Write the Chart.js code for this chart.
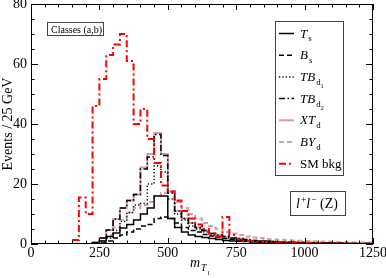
<!DOCTYPE html>
<html><head><meta charset="utf-8">
<script src="https://cdn.jsdelivr.net/npm/chart.js@4.4.1/dist/chart.umd.min.js"></script>
<style>html,body{margin:0;padding:0;background:#fff;}#wrap{width:386px;height:278px;position:relative}</style>
</head><body><div id="wrap"><canvas id="c" width="386" height="278"></canvas></div>
<script>
// ---- data (bins of 25 GeV, 0..1250) ----
const binEdges = [0,25,50,75,100,125,150,175,200,225,250,275,300,325,350,375,400,425,450,475,500,525,550,575,600,625,650,675,700,725,750,775,800,825,850,875,900,925,950,975,1000,1025,1050,1075,1100,1125,1150,1175,1200,1225,1250];
const xTickLabels = [0,250,500,750,1000,1250];
const yTickLabels = [0,20,40,60,80];

const T_s   = [0,0,0,0,0,0,0,0,0,0, 0.3,1,2.5,3.7,5.3,6.5,8,10,12,16, 16,8.5,5.5,4,3,2.5,2.2,1.8,1.5,1.2, 1,0.9,0.8,0.7,0.6,0.5,0.5,0.4,0.4,0.3, 0.3,0.3,0.2,0.2,0.2,0.2,0.1,0.1,0.1,0.1];
const B_s   = [0,0,0,0,0,0,0,0,0,0, 0,0.3,1,2,3,4,5,6,6.5,8.5, 9,8.5,7,5.5,4.5,4,3.2,2.7,2.2,1.8, 1.5,1.3,1.1,1,0.9,0.8,0.7,0.6,0.5,0.5, 0.4,0.4,0.3,0.3,0.3,0.2,0.2,0.2,0.2,0.1];
const TB_d1 = [0,0,0,0,0,0,0,0,0,0, 0,0.5,2,4.5,7.5,10.5,13,13.5,20,26, 24,15,10,8,6,5,4,3,2.5,2, 1.7,1.5,1.3,1.1,1,0.9,0.8,0.7,0.6,0.5, 0.5,0.4,0.4,0.3,0.3,0.3,0.2,0.2,0.2,0.2];
const TB_d2 = [0,0,0,0,0,0,0,0,0,0, 0.5,2,4.7,8.3,12,14.5,16.5,25,29,36.5, 29.5,17,11,8.5,7,5.5,4.5,3.5,3,2.5, 2,1.8,1.5,1.2,1,0.9,0.8,0.7,0.6,0.6, 0.5,0.5,0.4,0.4,0.3,0.3,0.3,0.2,0.2,0.2];
const XT_d  = [0,0,0,0,0,0,0,0,0,0, 0.5,2,4.7,8.3,12,14.5,16.5,25.5,30,37, 30,17.5,11,8.5,7,5.5,4.5,3.5,3,2.5, 2,1.8,1.5,1.2,1,0.9,0.8,0.7,0.6,0.6, 0.5,0.5,0.4,0.4,0.3,0.3,0.3,0.2,0.2,0.2];
const BY_d  = [0,0,0,0,0,0,0,0,0,0, 0,1,3,5.5,8,10.5,12,13,14,16, 17,17.5,14,12,10,8.5,7,6,5,4, 3.5,3,2.5,2.2,2,1.7,1.5,1.4,1.3,1.2, 1.1,1,0.9,0.8,0.8,0.7,0.6,0.6,0.5,0.5];
const SM_bkg= [0,0,0,0,0,0,0,1.3,15.5,10, 46,55,63,66.5,70,61,40,45,35,27, 19.5,17.5,14.5,11,8.5,6.5,5,3.5,2.5,9, 3,1.5,1,1,0.8,0.6,0.5,0.5,0.4,0.4, 0.3,0.3,0.3,0.2,0.2,0.2,0.2,0.1,0.1,0.1];

const SERIF = '"Liberation Serif","DejaVu Serif",serif';
const PINK = '#cfa3a6';

function hist(vals){
  const pts = vals.map((v,i)=>({x:binEdges[i], y:v}));
  pts.push({x:binEdges[vals.length], y:vals[vals.length-1]});
  return pts;
}

const styles = {
  T_s:   {color:'#000', dash:[], width:1.5},
  B_s:   {color:'#000', dash:[5,3], width:1.5},
  TB_d1: {color:'#000', dash:[1.2,2.2], width:1.5},
  TB_d2: {color:'#000', dash:[6,2.5,1.5,2.5], width:1.5},
  XT_d:  {color:PINK, dash:[], width:2},
  BY_d:  {color:PINK, dash:[5,3], width:2},
  SM:    {color:'#ff0000', dash:[7,3,2,3], width:2}
};

function ds(label, vals, st, order){
  return {label, data:hist(vals), stepped:'after', borderColor:st.color, borderWidth:st.width,
    borderDash:st.dash, pointRadius:0, fill:false, order, tension:0};
}

const legendRows = [
  {key:'T_s',   parts:[['T','i'],['s','sub']]},
  {key:'B_s',   parts:[['B','i'],['s','sub']]},
  {key:'TB_d1', parts:[['TB','i'],['d','sub'],['1','subsub']]},
  {key:'TB_d2', parts:[['TB','i'],['d','sub'],['2','subsub']]},
  {key:'XT_d',  parts:[['XT','i'],['d','sub']]},
  {key:'BY_d',  parts:[['BY','i'],['d','sub']]},
  {key:'SM',    parts:[['SM bkg','r']]}
];

function drawRich(ctx, x, y, parts, base){
  let cx = x;
  for (const [t, s] of parts){
    let size = base, dy = 0, it = false;
    if (s==='i') it = true;
    if (s==='sub'){ size = base*0.68; dy = base*0.3; }
    if (s==='subi'){ size = base*0.68; dy = base*0.3; it = true; }
    if (s==='subsub'){ size = base*0.5; dy = base*0.55; }
    if (s==='subsubi'){ size = base*0.5; dy = base*0.55; it = true; }
    if (s==='sup'){ size = base*0.68; dy = -base*0.38; }
    ctx.font = (it?'italic ':'') + size + 'px ' + SERIF;
    ctx.fillText(t, cx, y+dy);
    cx += ctx.measureText(t).width + (it?1:0);
  }
  return cx;
}

const decor = {
  id:'decor',
  afterDraw(chart){
    const ctx = chart.ctx, a = chart.chartArea;
    const xs = chart.scales.x, ys = chart.scales.y;
    ctx.save();
    ctx.strokeStyle = '#000'; ctx.lineWidth = 1; ctx.setLineDash([]);
    ctx.strokeRect(Math.round(a.left)+0.5, Math.round(a.top)+0.5, Math.round(a.right-a.left)-1, Math.round(a.bottom-a.top)-1);
    ctx.beginPath();
    for (let v=0; v<=1250; v+=50){
      const px = Math.round(xs.getPixelForValue(v))+0.5;
      const len = (v%250===0)?6:3.5;
      ctx.moveTo(px, a.bottom); ctx.lineTo(px, a.bottom-len);
      ctx.moveTo(px, a.top); ctx.lineTo(px, a.top+len);
    }
    for (let v=0; v<=80; v+=5){
      const py = Math.round(ys.getPixelForValue(v))+0.5;
      const len = (v%20===0)?7:3.5;
      ctx.moveTo(a.left, py); ctx.lineTo(a.left+len, py);
      ctx.moveTo(a.right, py); ctx.lineTo(a.right-len, py);
    }
    ctx.stroke();

    ctx.fillStyle = '#000'; ctx.textBaseline = 'alphabetic';
    drawRich(ctx, 190, 267, [['m','i'],['T','subi'],['l','subsubi']], 14);

    ctx.fillStyle='#fff'; ctx.fillRect(47.5,22.5,56,13);
    ctx.strokeStyle='#444'; ctx.strokeRect(47.5,22.5,56,13);
    ctx.fillStyle='#000'; ctx.font = '10px '+SERIF; ctx.fillText('Classes (a,b)', 51, 32.5);

    const lx=275.5, ly=21.5, lw=68, lh=154;
    ctx.fillStyle='#fff'; ctx.fillRect(lx,ly,lw,lh);
    ctx.strokeStyle='#444'; ctx.lineWidth=1; ctx.strokeRect(lx,ly,lw,lh);
    legendRows.forEach((r,i)=>{
      const yy = 33 + i*21.7;
      const st = styles[r.key];
      ctx.strokeStyle = st.color; ctx.lineWidth = st.width; ctx.setLineDash(st.dash);
      ctx.beginPath(); ctx.moveTo(279, yy+0.5); ctx.lineTo(294, yy+0.5); ctx.stroke();
      ctx.setLineDash([]);
      ctx.fillStyle='#000';
      drawRich(ctx, 300, yy+4.5, r.parts, 13);
    });

    ctx.lineWidth=1; ctx.strokeStyle='#444';
    ctx.fillStyle='#fff'; ctx.fillRect(290.5,191.5,55,24);
    ctx.strokeRect(290.5,191.5,55,24);
    ctx.fillStyle='#000';
    drawRich(ctx, 296, 208, [['l','i'],['+','sup'],['l','i'],['\u2212','sup'],[' (Z)','r']], 14);
    ctx.restore();
  }
};

new Chart(document.getElementById('c'), {
  type:'line',
  data:{ datasets:[
    ds('SM bkg', SM_bkg, styles.SM, 0),
    ds('T_s', T_s, styles.T_s, 1),
    ds('B_s', B_s, styles.B_s, 2),
    ds('TB_d1', TB_d1, styles.TB_d1, 3),
    ds('TB_d2', TB_d2, styles.TB_d2, 4),
    ds('XT_d', XT_d, styles.XT_d, 5),
    ds('BY_d', BY_d, styles.BY_d, 6)
  ]},
  options:{
    responsive:false, animation:false, devicePixelRatio:1,
    layout:{padding:{left:0, top:4, right:13, bottom:0}},
    plugins:{legend:{display:false}, tooltip:{enabled:false}},
    scales:{
      x:{type:'linear', min:0, max:1250,
        grid:{display:false, drawTicks:false}, border:{display:false},
        ticks:{color:'#000', font:{family:SERIF, size:14}, padding:1, maxRotation:0, autoSkip:false,
          callback:(v)=>String(v)},
        afterBuildTicks(s){ s.ticks = xTickLabels.map(v=>({value:v})); },
        afterFit(s){ s.height = 34; s.paddingLeft=0; s.paddingRight=0; }
      },
      y:{min:0, max:80,
        grid:{display:false, drawTicks:false}, border:{display:false},
        title:{display:true, text:'Events / 25 GeV', color:'#000', font:{family:SERIF, size:14}, padding:{top:0,bottom:0}},
        ticks:{color:'#000', font:{family:SERIF, size:14}, padding:4, callback:(v)=>String(v)},
        afterBuildTicks(s){ s.ticks = yTickLabels.map(v=>({value:v})); },
        afterFit(s){ s.width = 31; s.paddingTop=0; s.paddingBottom=0; }
      }
    }
  },
  plugins:[decor]
});
</script>
</body></html>
